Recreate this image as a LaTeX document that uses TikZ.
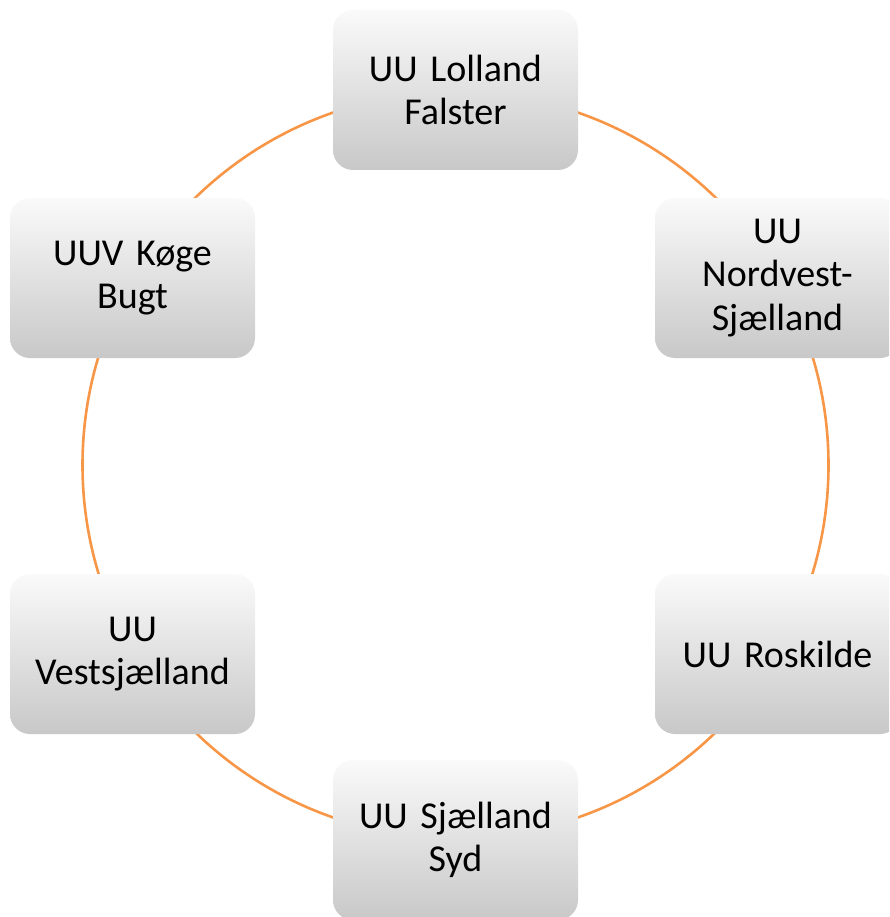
\documentclass[tikz,border=0pt]{standalone}
\usepackage{fontspec}
\setmainfont{Carlito}
\definecolor{ringorange}{HTML}{F79646}
\definecolor{boxtop}{HTML}{FAFAFA}
\definecolor{boxbot}{HTML}{C8C8C8}
\newcommand\unitfont{\fontsize{38}{43.5}\selectfont\spaceskip=0.21em\relax}
\begin{document}
\begin{tikzpicture}[x=1pt,y=-1pt,
  unit/.style={rounded corners=20pt, minimum width=245pt, minimum height=160pt,
    top color=boxtop, bottom color=boxbot, draw=none, align=center,
    font=\unitfont, text width=235pt, inner sep=0pt},
  ring/.style={draw=ringorange, line width=2.6pt}]
\useasboundingbox (0,0) rectangle (889,917);
\clip (0,0) rectangle (889,917);
\coordinate (c) at (455.5,465);
\draw[ring] (c) circle[radius=373pt];
\node[unit] (a) at (455.5,90) {UU Lolland\\Falster};
\node[unit] (b) at (777.5,278) {UU\\Nordvest-\\Sjælland};
\node[unit] (r) at (777.5,654) {UU Roskilde};
\node[unit] (s) at (455.5,840) {UU Sjælland\\Syd};
\node[unit] (v) at (132.5,654) {UU\\Vestsjælland};
\node[unit] (k) at (132.5,278) {UUV Køge\\Bugt};
\end{tikzpicture}
\end{document}
